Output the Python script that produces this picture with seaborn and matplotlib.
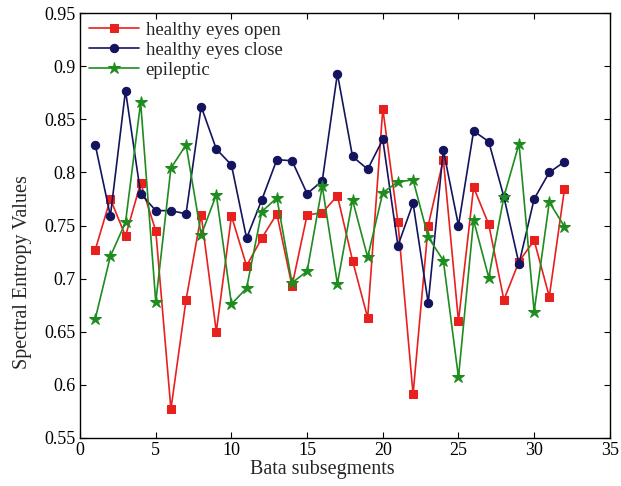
import numpy as np
import pandas as pd
import matplotlib
matplotlib.use("Agg")
import matplotlib.pyplot as plt
import seaborn as sns

segments = list(range(1, 33))
eyes_open = [0.727, 0.775, 0.740, 0.790, 0.745, 0.577, 0.680, 0.760, 0.650, 0.759,
             0.712, 0.738, 0.761, 0.693, 0.760, 0.762, 0.778, 0.717, 0.663, 0.860,
             0.753, 0.591, 0.750, 0.812, 0.660, 0.786, 0.751, 0.680, 0.716, 0.736,
             0.683, 0.784]
eyes_close = [0.826, 0.759, 0.877, 0.780, 0.764, 0.764, 0.761, 0.862, 0.822, 0.807,
              0.738, 0.774, 0.812, 0.811, 0.780, 0.792, 0.893, 0.815, 0.803, 0.831,
              0.731, 0.771, 0.677, 0.821, 0.750, 0.839, 0.829, 0.777, 0.714, 0.775,
              0.800, 0.810]
epileptic = [0.662, 0.721, 0.753, 0.866, 0.678, 0.804, 0.826, 0.741, 0.779, 0.676,
             0.691, 0.763, 0.776, 0.696, 0.707, 0.787, 0.695, 0.774, 0.720, 0.781,
             0.791, 0.793, 0.739, 0.717, 0.607, 0.755, 0.701, 0.777, 0.827, 0.669,
             0.772, 0.749]
labels = ["healthy eyes open", "healthy eyes close", "epileptic"]
x_ticks = [0, 5, 10, 15, 20, 25, 30, 35]
y_ticks = [0.55, 0.6, 0.65, 0.7, 0.75, 0.8, 0.85, 0.9, 0.95]
y_ticklabels = ["0.55", "0.6", "0.65", "0.7", "0.75", "0.8", "0.85", "0.9", "0.95"]

sns.set_theme(style="white")
plt.rcParams['font.family'] = ['Liberation Serif', 'DejaVu Serif']

fig = plt.figure(figsize=(6.21, 4.86), dpi=100)
ax = fig.add_axes([0.129, 0.099, 0.853, 0.874])

series = [eyes_open, eyes_close, epileptic]
colors = ["#e8201e", "#14145e", "#1e8c1e"]
markers = ["s", "o", "*"]
msizes = [6, 6, 9]
for vals, lab, c, m, ms in zip(series, labels, colors, markers, msizes):
    df = pd.DataFrame({"x": segments, "y": vals})
    sns.lineplot(data=df, x="x", y="y", ax=ax, color=c, marker=m, markersize=ms,
                 markeredgecolor=c, markerfacecolor=c, linewidth=1.2, label=lab)

ax.set_xlim(0, 35)
ax.set_ylim(0.55, 0.95)
ax.set_xticks(x_ticks)
ax.set_yticks(y_ticks)
ax.set_xticklabels([str(t) for t in x_ticks])
ax.set_yticklabels(y_ticklabels)
ax.tick_params(direction="in", length=4, width=0.8, top=True, right=True,
               labelsize=13, colors="black", pad=3)
ax.tick_params(axis="both", which="both", bottom=True, left=True)
for sp in ax.spines.values():
    sp.set_color("black")
    sp.set_linewidth(1.0)
ax.set_xlabel("Bata subsegments", fontsize=14.5)
ax.set_ylabel("Spectral Entropy Values", fontsize=14.5)
ax.xaxis.set_label_coords(0.457, -0.053)
ax.yaxis.set_label_coords(-0.09, 0.39)

leg = ax.legend(loc="upper left", frameon=False, fontsize=13.5, handlelength=2.7,
                borderaxespad=0.35, labelspacing=0.15, handletextpad=0.35,
                borderpad=0.1)

fig.savefig("out.png", dpi=100)
